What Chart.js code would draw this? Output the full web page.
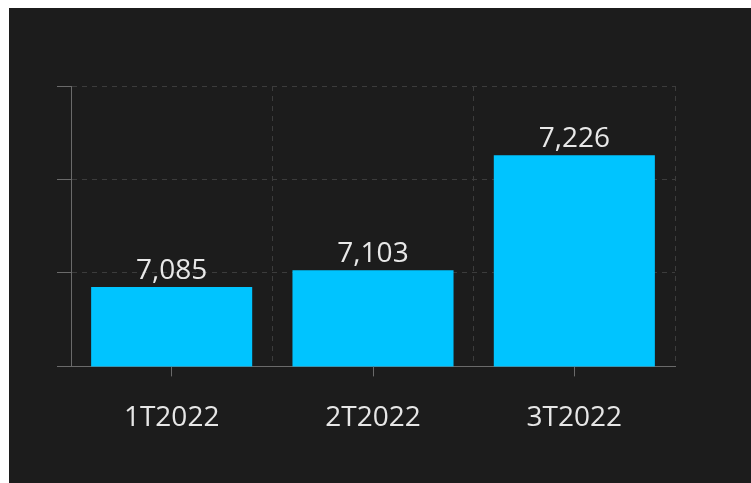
<!DOCTYPE html>
<html>
<head>
<meta charset="utf-8">
<script src="https://cdn.jsdelivr.net/npm/chart.js@4/dist/chart.umd.min.js"></script>
<style>
  html, body { margin: 0; padding: 0; background: #ffffff; }
  #wrap { position: absolute; left: 9px; top: 8px; width: 742px; height: 475px; background: #1c1c1c; }
</style>
</head>
<body>
<div id="wrap"><canvas id="chart"></canvas></div>
<script>
const quarters = ['1T2022', '2T2022', '3T2022'];
const totals = [7085, 7103, 7226];
const yMin = 7000, yMax = 7300, yStep = 100;

// value labels above each bar
const barLabels = {
    id: 'barLabels',
    afterDatasetsDraw(chart) {
        const ctx = chart.ctx;
        const meta = chart.getDatasetMeta(0);
        ctx.save();
        ctx.font = "28px 'Open Sans'";
        ctx.fillStyle = '#e8e8e8';
        ctx.textAlign = 'center';
        ctx.textBaseline = 'alphabetic';
        meta.data.forEach((bar, i) => {
            ctx.fillText(totals[i].toLocaleString('en-US'), bar.x, bar.y - 8);
        });
        ctx.restore();
    }
};

const gridColor = '#3c3c3c';
const axisColor = '#6a6a6a';

const ctx = document.getElementById('chart').getContext('2d');
const chart = new Chart(ctx, {
    type: 'bar',
    data: {
        labels: quarters,
        datasets: [{
            data: totals,
            backgroundColor: '#00c4ff',
            borderWidth: 0,
            barPercentage: 0.8,
            categoryPercentage: 1
        }]
    },
    options: {
        responsive: true,
        maintainAspectRatio: false,
        animation: false,
        layout: { padding: { top: 78, left: 48, right: 76, bottom: 23 } },
        plugins: {
            legend: { display: false },
            tooltip: { enabled: false }
        },
        scales: {
            x: {
                type: 'category',
                offset: true,
                grid: {
                    offset: false,
                    drawOnChartArea: false,
                    drawTicks: true,
                    tickLength: 10,
                    tickColor: axisColor
                },
                border: { display: true, color: axisColor, width: 1 },
                ticks: {
                    color: '#e6e6e6',
                    padding: 25,
                    font: { family: "'Open Sans'", size: 28 }
                }
            },
            x2: {
                type: 'category',
                position: 'top',
                labels: quarters,
                offset: true,
                grid: {
                    offset: true,
                    color: (c) => c.index === 0 ? 'rgba(0,0,0,0)' : gridColor,
                    drawTicks: false
                },
                border: { display: false, dash: [5, 5] },
                ticks: { display: false }
            },
            y: {
                min: yMin,
                max: yMax,
                ticks: { display: false, stepSize: yStep },
                grid: {
                    color: (c) => c.index === 0 ? 'rgba(0,0,0,0)' : gridColor,
                    tickLength: 14,
                    tickColor: axisColor
                },
                border: { display: true, color: axisColor, width: 1, dash: [5, 5] }
            }
        }
    },
    plugins: [barLabels]
});
</script>
</body>
</html>
